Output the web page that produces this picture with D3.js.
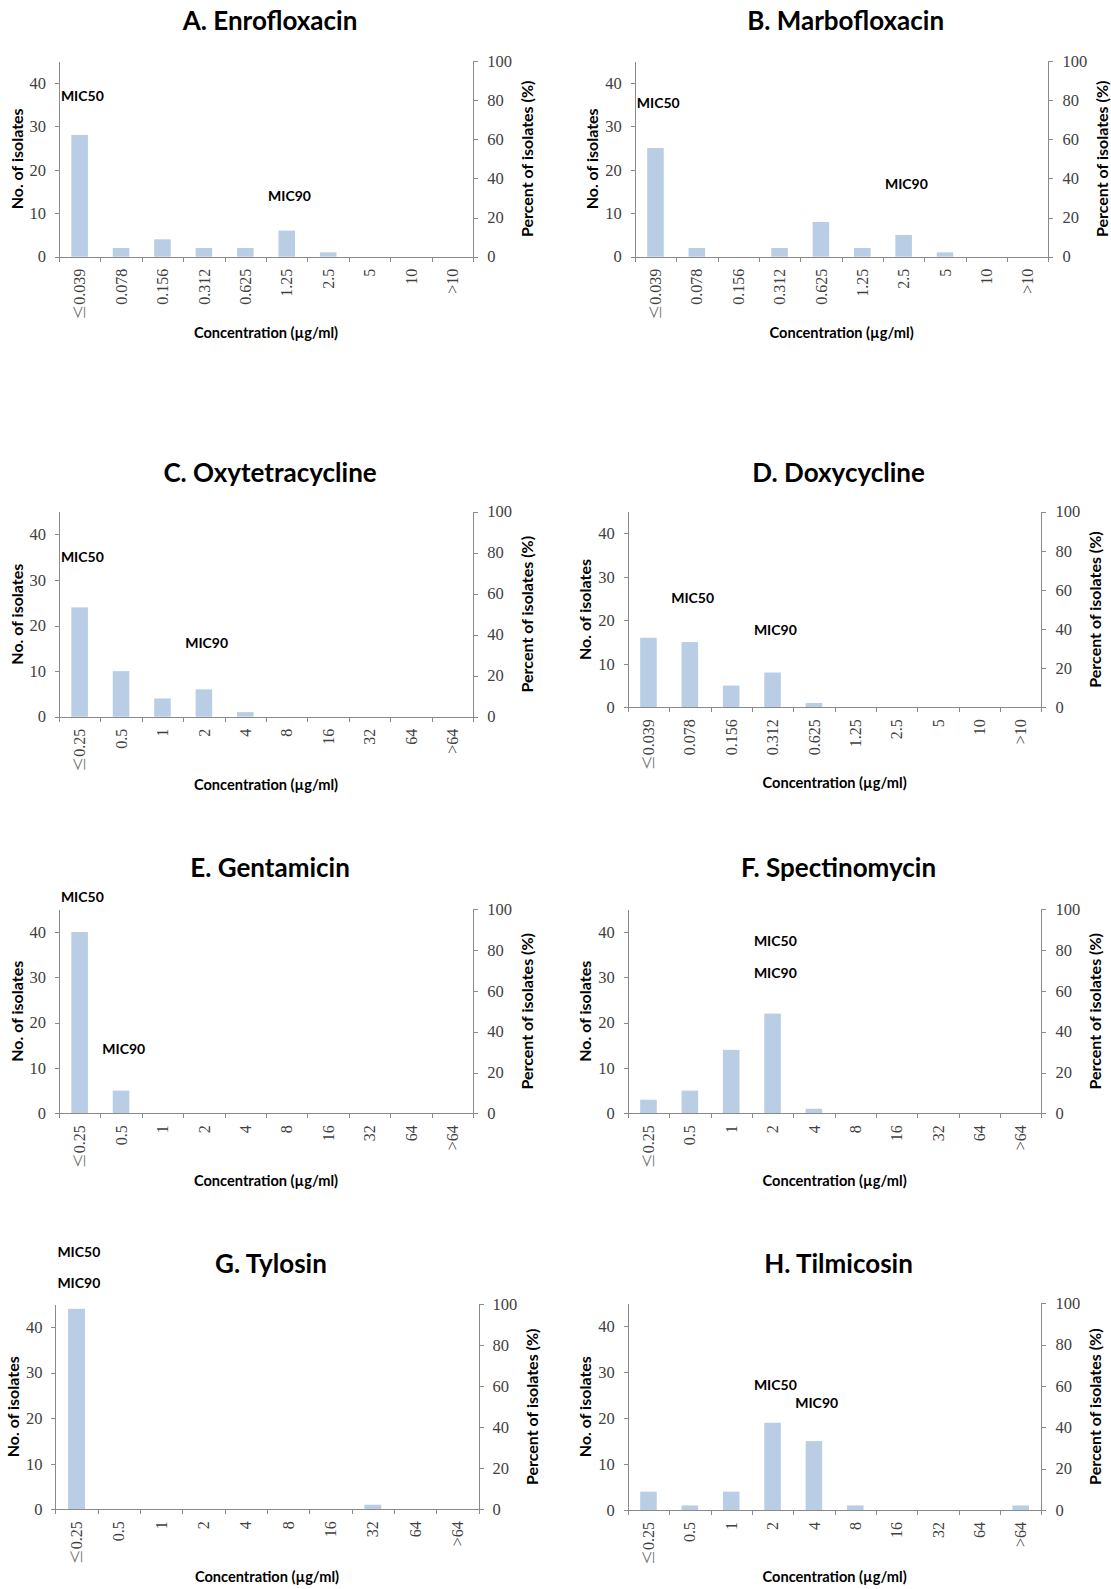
<!DOCTYPE html>
<html><head><meta charset="utf-8">
<script src="https://cdn.jsdelivr.net/npm/d3@7"></script>
<style>body{margin:0;background:#fff} svg{display:block}</style>
</head><body>
<svg id="chart" width="1111" height="1589"></svg>
<script>
// ---- data ----
const fluoroConc = ["≤0.039","0.078","0.156","0.312","0.625","1.25","2.5","5","10",">10"];
const otherConc  = ["≤0.25","0.5","1","2","4","8","16","32","64",">64"];
const panelTitles = ["A. Enrofloxacin","B. Marbofloxacin","C. Oxytetracycline","D. Doxycycline",
                     "E. Gentamicin","F. Spectinomycin","G. Tylosin","H. Tilmicosin"];
const enrofloxacin    = [28,2,4,2,2,6,1,0,0,0];
const marbofloxacin   = [25,2,0,2,8,2,5,1,0,0];
const oxytetracycline = [24,10,4,6,1,0,0,0,0,0];
const doxycycline     = [16,15,5,8,1,0,0,0,0,0];
const gentamicin      = [40,5,0,0,0,0,0,0,0,0];
const spectinomycin   = [3,5,14,22,1,0,0,0,0,0];
const tylosin         = [44,0,0,0,0,0,0,1,0,0];
const tilmicosin      = [4,1,4,19,15,1,0,0,0,1];
const totalIsolates = 45;
const countTicks   = [0,10,20,30,40];
const percentTicks = [0,20,40,60,80,100];
const mic50Index = [0,0,0,1,0,3,0,3];
const mic90Index = [5,6,3,3,1,3,0,4];

const panelValues = [enrofloxacin, marbofloxacin, oxytetracycline, doxycycline,
                     gentamicin, spectinomycin, tylosin, tilmicosin];
const panelConc = [fluoroConc, fluoroConc, otherConc, fluoroConc,
                   otherConc, otherConc, otherConc, otherConc];

// ---- layout (pixel geometry / annotation placement) ----
const layout = [
 {left:58.9, right:473.2, top:61,    base:256.7,  titleY:30,     concY:333,    m50:37,   m90:14},
 {left:634.8,right:1048.4,top:61,    base:256.7,  titleY:30,     concY:333,    m50:35.3, m90:16.7},
 {left:58.9, right:473.2, top:511.7, base:716.7,  titleY:481.7,  concY:785,    m50:35,   m90:16.1},
 {left:627.8,right:1041.4,top:511.7, base:707.3,  titleY:481.7,  concY:783.3,  m50:25.1, m90:17.8},
 {left:58.9, right:473.2, top:909.3, base:1113.3, titleY:876.7,  concY:1181,   m50:47.6, m90:14.2},
 {left:627.8,right:1041.4,top:909.3, base:1113.3, titleY:877,    concY:1181,   m50:37.9, m90:31},
 {left:55.4, right:478.6, top:1304.3,base:1509.3, titleY:1273.3, concY:1576.7, m50:56.5, m90:49.6},
 {left:627.8,right:1041.4,top:1303.3,base:1510,   titleY:1273.3, concY:1576.7, m50:27.2, m90:23.2}
];

const svg = d3.select("#chart");
const AXIS = "#8a8a8a", TICKTXT = "#404040", BAR = "#b9cde5";
const SANS = "Lato, 'Open Sans', sans-serif", SERIF = "'Liberation Serif', 'Times New Roman', serif";

panelValues.forEach((vals, i) => {
  const L = layout[i];
  const cats = panelConc[i];
  const g = svg.append("g");
  const x = d3.scaleBand().domain(cats).range([L.left, L.right]).paddingInner(0).paddingOuter(0);
  const xLin = d3.scaleLinear().domain([0, cats.length]).range([L.left, L.right]);
  const y = d3.scaleLinear().domain([0, totalIsolates]).range([L.base, L.top]);
  const yPct = d3.scaleLinear().domain([0, 100]).range([L.base, L.top]);
  const bw = x.bandwidth() * 0.4;

  // bars
  g.selectAll("rect.bar").data(vals).join("rect")
    .attr("class","bar")
    .attr("x", (d, j) => x(cats[j]) + (x.bandwidth() - bw) / 2)
    .attr("width", bw)
    .attr("y", d => y(d))
    .attr("height", d => y(0) - y(d))
    .attr("fill", BAR);

  // bottom axis line + boundary ticks
  const xAx = g.append("g").attr("transform", `translate(0,${L.base})`)
    .call(d3.axisBottom(xLin).tickValues(d3.range(cats.length + 1)).tickSize(5).tickSizeOuter(0).tickFormat(""));
  // category labels
  const xLab = g.append("g").attr("transform", `translate(0,${L.base})`)
    .call(d3.axisBottom(x).tickSize(0));
  xLab.select(".domain").remove();
  xLab.selectAll("text")
    .attr("transform","rotate(-90)")
    .attr("text-anchor","end")
    .attr("x", -12).attr("y", 0).attr("dy","0.35em")
    .attr("font-family", SERIF).attr("font-size", 16).attr("fill", TICKTXT)
    .each(function(d) {
      if (d.startsWith("≤")) {
        const t = d3.select(this).text(null);
        t.append("tspan").attr("font-family", "'Noto Sans CJK JP', 'DejaVu Sans', sans-serif")
          .attr("font-size", 15).attr("fill", "#7a7a7a").text("≤");
        t.append("tspan").text(d.slice(1));
      }
    });

  // left axis
  const yAx = g.append("g").attr("transform", `translate(${L.left},0)`)
    .call(d3.axisLeft(y).tickValues(countTicks).tickSize(4).tickPadding(9).tickSizeOuter(0));
  yAx.selectAll("text").attr("font-family", SERIF).attr("font-size", 16.5).attr("fill", TICKTXT);

  // right axis
  const yAxR = g.append("g").attr("transform", `translate(${L.right},0)`)
    .call(d3.axisRight(yPct).tickValues(percentTicks).tickSize(5).tickPadding(9).tickSizeOuter(0));
  yAxR.selectAll("text").attr("font-family", SERIF).attr("font-size", 16.5).attr("fill", TICKTXT);

  [xAx, yAx, yAxR].forEach(a => {
    a.selectAll("path, line").attr("stroke", AXIS).attr("stroke-width", 1).attr("shape-rendering","crispEdges");
  });

  const cx = (L.left + L.right) / 2;
  const mid = (L.top + L.base) / 2;

  // title
  g.append("text").attr("x", cx + 4).attr("y", L.titleY)
    .attr("text-anchor","middle").attr("font-family", SANS).attr("font-weight", 700)
    .attr("font-size", 26).attr("fill","#000").text(panelTitles[i]);

  // axis titles
  g.append("text").attr("transform", `translate(${L.left - 42},${mid}) rotate(-90)`)
    .attr("text-anchor","middle").attr("dy","0.35em")
    .attr("font-family", SANS).attr("font-weight", 700).attr("font-size", 16).attr("fill","#000")
    .text("No. of isolates");
  g.append("text").attr("transform", `translate(${L.right + 54},${mid}) rotate(-90)`)
    .attr("text-anchor","middle").attr("dy","0.35em")
    .attr("font-family", SANS).attr("font-weight", 700).attr("font-size", 16).attr("fill","#000")
    .text("Percent of isolates (%)");
  g.append("text").attr("x", cx).attr("y", L.concY).attr("dy","0.35em")
    .attr("text-anchor","middle")
    .attr("font-family", SANS).attr("font-weight", 700).attr("font-size", 14.6).attr("fill","#000")
    .text("Concentration (µg/ml)");

  // MIC annotations
  g.append("text").attr("x", x(cats[mic50Index[i]]) + 2).attr("y", y(L.m50)).attr("dy","0.35em")
    .attr("font-family", SANS).attr("font-weight", 700).attr("font-size", 14).attr("fill","#000")
    .text("MIC50");
  g.append("text").attr("x", x(cats[mic90Index[i]]) + 2).attr("y", y(L.m90)).attr("dy","0.35em")
    .attr("font-family", SANS).attr("font-weight", 700).attr("font-size", 14).attr("fill","#000")
    .text("MIC90");
});
</script>
</body></html>
